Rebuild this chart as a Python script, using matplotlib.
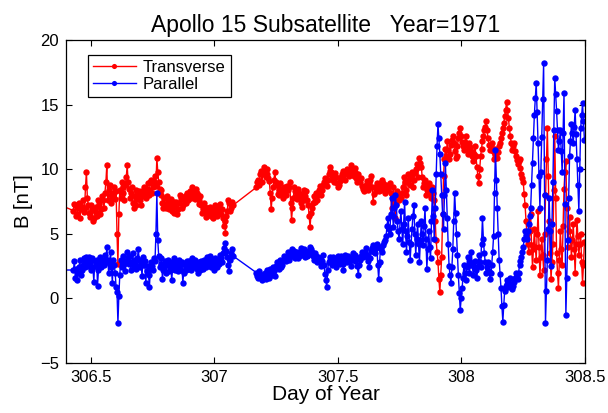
import numpy as np
import matplotlib
matplotlib.use("Agg")
import matplotlib.pyplot as plt

plt.rcParams['font.family'] = ['Liberation Sans', 'DejaVu Sans']

# day-of-year sampling of the data stretches (gap between 307.08 and 307.17)
day_lead = 306.38
seg1_start, seg1_end = 306.43, 307.075
seg2a_start, seg2a_end = 307.17, 307.7475
seg2b_start, seg2b_end = 307.755, 308.4975

lead_trans = 7.2
lead_par = 2.2

# ---- first stretch: main samples + in-between samples
trans_seg1 = [6.8, 7.2, 6.5, 7.4, 6.9, 7.6, 7.0, 9.8, 7.2,
              6.3, 6.9, 6.2, 7.1, 6.6, 7.3, 6.9,
              7.6, 8.2, 10.3, 8.4,
              8.0, 7.8, 8.6, 8.3, 2.7,
              8.4, 9.0, 8.2, 8.8, 10.3, 8.5,
              8.2, 7.4, 7.9, 7.2, 8.0, 7.6, 8.3,
              8.6, 7.8, 8.9, 8.4, 9.2, 8.6,
              9.5, 10.9, 9.0,
              8.0, 7.4, 7.8, 7.0, 7.6, 7.3, 6.8, 7.5, 7.1,
              6.5, 7.4, 7.8, 7.2, 7.9, 8.2, 7.6,
              8.3, 8.6, 8.1, 8.5, 8.0, 7.6,
              7.2, 6.9, 7.1, 6.6, 6.8, 6.4, 6.9, 6.6, 7.0,
              6.7, 7.3, 6.9, 5.6, 5.1, 6.8, 7.4, 7.0, 7.2]
trans_seg1_mid = [7.3, 6.4, 7.0, 6.2, 7.1, 6.7, 8.6, 7.8, 6.6,
                  7.2, 6.0, 6.8, 6.4, 7.6, 6.5, 7.9,
                  7.0, 9.0, 7.6, 8.8,
                  7.4, 8.2, 7.7, 5.0, 6.5,
                  7.8, 8.6, 7.6, 9.4, 9.0, 7.8,
                  8.6, 7.0, 8.4, 7.7, 8.3, 7.2, 7.9,
                  8.2, 8.5, 8.0, 9.0, 8.2, 9.0,
                  8.7, 9.8, 8.5,
                  8.4, 7.0, 7.3, 7.9, 6.9, 7.7, 7.2, 6.6, 7.5,
                  6.9, 8.0, 7.0, 7.6, 7.4, 8.0, 8.1,
                  7.8, 8.4, 7.7, 8.2, 7.3, 7.9,
                  6.6, 7.4, 6.3, 7.0, 7.1, 6.7, 6.2, 7.2, 6.4,
                  7.0, 6.5, 6.2, 6.0, 6.4, 7.6, 6.8, 7.5]

par_seg1 = [2.2, 1.6, 1.4, 2.4, 1.8, 2.6, 2.9, 3.2, 2.5,
            2.8, 3.1, 1.3, 2.6, 1.0, 2.8, 2.4,
            2.9, 3.4, 4.0, 2.0,
            3.6, 1.2, 2.6, 0.9, -1.9,
            1.8, 2.4, 3.3, 2.1, 3.6, 2.7,
            2.2, 3.5, 3.0, 2.6, 3.8, 2.4, 1.7,
            2.6, 1.2, 2.5, 0.9, 2.8, 2.2,
            2.9, 8.2, 3.3,
            2.7, 1.5, 2.5, 2.0, 3.0, 2.4, 1.4, 2.7, 2.2,
            2.5, 3.0, 2.2, 1.2, 2.6, 2.9, 2.3,
            2.6, 3.1, 2.4, 2.7, 2.0, 2.5,
            2.9, 2.3, 2.6, 3.2, 2.8, 2.4, 3.0, 2.2, 2.7,
            3.0, 3.4, 2.8, 3.9, 4.3, 3.2, 2.1, 3.5, 3.3]
par_seg1_mid = [2.9, 2.3, 2.0, 3.0, 2.2, 3.1, 2.4, 2.7, 3.2,
                2.2, 2.4, 2.9, 3.0, 2.2, 3.2, 3.0,
                2.6, 2.8, 3.0, 2.7,
                2.4, 3.0, 2.0, 0.5, 0.2,
                3.0, 2.9, 2.7, 2.9, 3.1, 3.3,
                2.8, 2.5, 2.3, 3.1, 3.0, 2.8, 3.2,
                2.9, 2.1, 1.8, 2.3, 2.5, 3.1,
                5.0, 4.5, 2.4,
                3.1, 2.2, 2.9, 2.6, 2.1, 2.8, 2.3, 3.1, 2.9,
                2.1, 2.6, 2.8, 2.0, 2.2, 2.5, 2.9,
                2.2, 2.8, 3.0, 2.3, 2.8, 2.2,
                2.7, 3.0, 2.4, 2.6, 3.3, 2.6, 2.5, 3.1, 2.4,
                2.7, 3.1, 3.5, 3.6, 3.7, 2.6, 3.0, 3.8]

# ---- second stretch, quiet part
trans_seg2a = [8.6, 9.2, 9.6, 9.0, 10.2, 9.4, 10.0, 9.1,
               6.9, 8.6, 9.8, 8.8,
               8.4, 8.9, 8.1, 8.6, 8.0, 8.4,
               9.0, 6.1, 7.8, 8.3,
               7.7, 8.2, 7.4, 8.0, 7.6, 8.3,
               7.2, 5.5, 7.0, 7.9, 8.2, 7.6,
               8.4, 8.0, 8.8, 9.3, 8.7, 9.6,
               10.2, 9.5, 9.0, 9.4, 8.6, 9.1,
               9.6, 9.9, 9.2, 10.0, 9.5, 10.3,
               9.8, 10.1, 9.3, 9.6, 9.0, 8.7,
               8.3, 8.8, 8.4, 9.0, 9.5, 7.5,
               8.6, 8.9, 8.3, 8.7, 9.2, 8.5,
               8.8, 8.4, 8.9, 7.0, 8.6, 6.2, 8.3, 7.6]
trans_seg2a_mid = [9.0, 8.8, 9.9, 9.6, 9.8, 9.6, 9.3, 8.2,
                   7.8, 9.2, 9.0, 8.1,
                   8.0, 8.5, 7.8, 8.3, 8.7, 8.6,
                   7.4, 7.0, 8.6, 7.9,
                   8.5, 7.8, 7.1, 8.4, 7.9, 7.6,
                   6.4, 6.6, 7.4, 7.5, 8.0, 8.1,
                   8.7, 8.4, 9.0, 9.1, 9.2, 9.9,
                   9.8, 9.2, 9.7, 8.9, 8.8, 9.4,
                   9.3, 9.6, 9.7, 9.8, 9.9, 10.0,
                   9.5, 9.8, 9.0, 9.2, 9.3, 8.5,
                   8.6, 9.1, 8.7, 9.2, 8.6, 8.1,
                   8.3, 8.6, 8.9, 8.4, 8.9, 8.2,
                   8.6, 8.7, 8.2, 7.6, 7.4, 7.3, 8.0]

par_seg2a = [2.0, 1.6, 1.9, 1.4, 1.8, 1.5, 2.2, 1.6,
             2.0, 2.4, 1.7, 2.8,
             2.3, 3.0, 2.6, 3.3, 2.9, 3.6,
             3.2, 3.8, 3.4, 3.1,
             3.6, 3.3, 3.9, 3.5, 3.2, 3.7,
             3.4, 4.0, 3.6, 3.0, 3.3, 2.8,
             3.1, 2.5, 3.4, 1.9, 0.9, 2.8,
             3.2, 2.6, 3.0, 2.4, 3.3, 2.7,
             3.0, 2.2, 3.4, 2.8, 3.1, 2.5,
             3.5, 2.9, 3.2, 1.8, 3.0, 3.6,
             3.3, 3.9, 3.1, 2.4, 3.7, 4.1,
             3.5, 4.2, 1.5, 4.0, 3.6, 4.4,
             4.8, 6.2, 5.0, 7.8, 5.5, 8.0, 6.0, 4.6]
par_seg2a_mid = [1.7, 2.1, 1.6, 1.7, 2.0, 1.9, 1.8, 2.3,
                 1.8, 2.1, 2.5, 2.6,
                 2.8, 2.4, 3.0, 3.1, 3.3, 3.0,
                 3.5, 3.6, 3.7, 3.4,
                 3.1, 3.6, 3.4, 3.8, 3.5, 3.3,
                 3.7, 3.8, 3.3, 3.5, 3.0, 3.2,
                 2.8, 2.9, 2.6, 1.4, 2.2, 3.0,
                 2.9, 3.2, 2.7, 2.9, 3.0, 3.3,
                 2.7, 2.9, 3.1, 3.3, 2.9, 3.1,
                 3.2, 3.4, 2.5, 2.6, 3.3, 3.2,
                 3.6, 3.4, 2.9, 3.1, 3.9, 3.6,
                 3.9, 2.6, 2.8, 3.8, 4.1, 4.5,
                 5.6, 5.4, 6.5, 6.4, 7.0, 7.2, 5.2]

# ---- second stretch, disturbed part
trans_seg2b = [7.8, 8.6, 9.0, 8.4, 9.6, 8.8, 9.8, 9.2, 10.0, 9.4,
               10.9, 10.2, 8.6, 9.2, 8.4, 8.9, 7.8, 8.6, 7.6, 4.5,
               2.8, 0.5, 3.2, 9.5, 11.6, 12.2, 10.8, 11.9, 12.6, 11.4,
               11.0, 12.4, 13.2, 12.1,
               11.5, 12.6, 11.2, 12.0, 11.4, 10.6, 11.8, 10.2, 8.9, 11.0,
               12.2, 13.0, 13.7, 12.4, 11.5, 12.0, 10.8, 11.6, 10.9, 11.8,
               12.4, 13.2, 14.1, 15.2, 14.0, 12.6, 11.5, 12.0, 11.0, 10.4,
               10.8, 9.6,
               9.0, 7.2, 5.0, 3.6, 6.5, 2.4, 5.4, 3.0, 6.8, 1.8,
               4.6, 2.2, 8.0, 13.2, 6.0, 1.5, 4.2, 12.6, 3.5, 0.8,
               5.2, 2.6, 8.5, 10.6, 4.0, 6.3, 3.2, 5.8, 2.0, 6.1,
               3.4, 5.0, 1.2, 4.4]
trans_seg2b_mid = [8.2, 9.4, 8.0, 9.0, 9.2, 9.5, 8.6, 9.7, 10.4, 10.2,
                   10.5, 9.4, 8.9, 8.0, 8.6, 8.3, 8.1, 8.2, 6.0, 3.6,
                   1.5, 1.8, 6.5, 10.8, 11.0, 11.5, 11.2, 12.3, 12.0, 10.9,
                   11.8, 12.8, 12.6, 11.8,
                   12.1, 11.9, 11.6, 11.7, 11.0, 11.2, 11.0, 9.5, 10.0, 11.6,
                   12.6, 13.3, 13.0, 11.9, 11.8, 11.4, 11.2, 11.2, 11.3, 12.0,
                   12.8, 13.6, 14.6, 14.6, 13.2, 12.0, 11.8, 11.4, 10.7, 10.6,
                   10.1, 9.3,
                   8.1, 6.0, 4.2, 5.2, 4.1, 3.8, 4.0, 5.0, 4.0, 3.2,
                   3.4, 5.0, 10.8, 9.5, 3.5, 2.8, 8.4, 7.8, 2.0, 3.0,
                   3.8, 5.6, 9.8, 7.0, 5.2, 4.6, 4.5, 3.8, 4.2, 4.8,
                   4.2, 2.8, 2.6]

par_seg2b = [6.8, 4.2, 7.5, 3.6, 6.2, 3.0, 5.4, 7.2, 3.4, 5.8,
             2.8, 6.0, 4.1, 7.0, 2.3, 5.2, 3.1, 8.4, 4.6, 9.6,
             13.5, 11.2, 8.0, 5.4, 10.5, 6.2, 2.5, 1.2, 3.8, 8.2,
             5.0, 1.8, -0.9, 0.8,
             2.6, 1.4, 3.2, 2.0, 3.6, 1.8, 2.9, 1.6, 3.4, 2.4,
             6.2, 3.5, 2.0, 2.8, 1.5, 2.6, 4.8, 11.5, 7.0, 3.0,
             0.8, -1.8, 0.6, 1.4, 0.9, 1.6, 0.7, 1.3, 2.0, 1.5,
             2.6, 3.2,
             4.0, 5.2, 4.6, 5.8, 7.0, 10.5, 14.2, 16.7, 12.0, 7.0,
             12.5, 18.2, -1.9, 3.0, 7.8, 2.5, 9.0, 17.1, 14.5, 11.5,
             13.0, 9.8, 15.9, -1.3, 4.5, 11.0, 13.5, 12.0, 14.6, 10.8,
             6.8, 13.2, 15.1, 12.3]
par_seg2b_mid = [5.4, 5.8, 5.2, 4.8, 4.4, 4.2, 6.4, 5.0, 4.6, 4.2,
                 4.5, 5.0, 5.6, 4.6, 3.8, 4.0, 6.0, 6.4, 7.0, 11.8,
                 12.4, 9.6, 6.5, 8.0, 8.4, 4.2, 1.8, 2.4, 6.0, 6.6,
                 3.4, 0.4, 0.0, 1.6,
                 2.0, 2.4, 2.6, 2.8, 2.6, 2.4, 2.2, 2.5, 2.8, 4.2,
                 4.6, 2.8, 2.4, 2.1, 2.0, 3.6, 8.2, 9.2, 5.0, 1.9,
                 -0.6, -0.5, 1.0, 1.1, 1.2, 1.0, 1.0, 1.6, 1.8, 2.0,
                 2.9, 3.6,
                 4.6, 4.9, 5.2, 6.4, 8.8, 12.4, 15.5, 14.4, 9.5, 9.8,
                 15.4, 8.0, 0.6, 5.4, 5.2, 5.8, 13.0, 15.8, 13.0, 12.2,
                 11.4, 12.8, 7.3, 1.6, 7.8, 12.2, 12.8, 13.3, 12.7, 8.8,
                 10.0, 14.2, 13.7]


def merge(main, mid):
    out = np.empty(len(main) + len(mid))
    out[0::2] = main
    out[1::2] = mid
    return out


tr1 = merge(trans_seg1, trans_seg1_mid)
pa1 = merge(par_seg1, par_seg1_mid)
tr2a = merge(trans_seg2a, trans_seg2a_mid)
pa2a = merge(par_seg2a, par_seg2a_mid)
tr2b = merge(trans_seg2b, trans_seg2b_mid)
pa2b = merge(par_seg2b, par_seg2b_mid)

day = np.concatenate([[day_lead],
                      np.linspace(seg1_start, seg1_end, len(tr1)),
                      np.linspace(seg2a_start, seg2a_end, len(tr2a)),
                      np.linspace(seg2b_start, seg2b_end, len(tr2b))])
trans = np.concatenate([[lead_trans], tr1, tr2a, tr2b])
par = np.concatenate([[lead_par], pa1, pa2a, pa2b])

fig = plt.figure(figsize=(6.08, 4.13), dpi=100)
ax = fig.add_axes([0.1086, 0.121, 0.8536, 0.782])

ax.plot(day, trans, '-o', color='red', lw=1.0, ms=4.6, mew=0, label='Transverse')
ax.plot(day, par, '-o', color='blue', lw=1.0, ms=4.6, mew=0, label='Parallel')

ax.set_xlim(306.4, 308.5)
ax.set_ylim(-5, 20)
ax.set_xticks([306.5, 307, 307.5, 308, 308.5])
ax.set_xticklabels(['306.5', '307', '307.5', '308', '308.5'])
ax.set_yticks([-5, 0, 5, 10, 15, 20])
ax.tick_params(direction='in', top=True, right=True, length=4, labelsize=12, pad=5)
for s in ax.spines.values():
    s.set_linewidth(0.9)

ax.set_xlabel('Day of Year', fontsize=15, labelpad=0)
ax.set_ylabel('B [nT]', fontsize=14.5, labelpad=5)
ax.set_title('Apollo 15 Subsatellite   Year=1971', fontsize=16.5, pad=6)

leg = ax.legend(loc='upper left', bbox_to_anchor=(0.042, 0.955), fontsize=12,
                fancybox=False, edgecolor='black', framealpha=1, borderaxespad=0,
                handlelength=2.6, handletextpad=0.4, borderpad=0.3, labelspacing=0.15,
                markerscale=0.8)
leg.get_frame().set_linewidth(0.9)

fig.savefig('out.png', dpi=100)
